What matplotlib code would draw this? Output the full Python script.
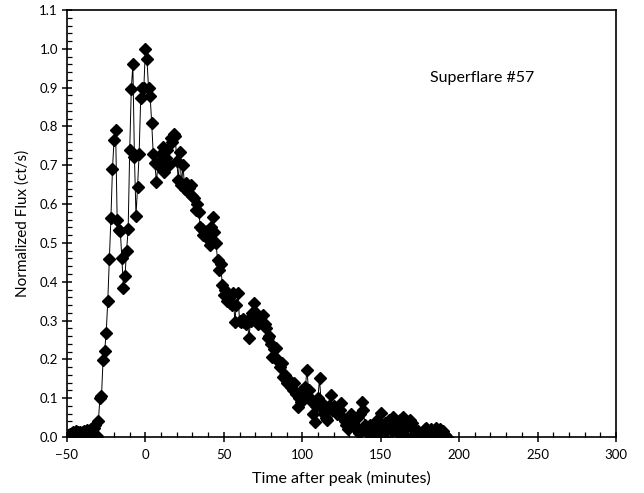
import matplotlib
matplotlib.use("Agg")
import matplotlib.pyplot as plt
import numpy as np
from matplotlib.ticker import MultipleLocator, FormatStrFormatter

plt.rcParams["font.family"] = ["Lato", "DejaVu Sans"]

# time after peak (minutes), one sample per minute
time_min = np.arange(-50, 193)

# normalized flux
flux = [
    0.000, 0.005, 0.008, 0.010, 0.012, 0.010, 0.015, 0.012, 0.014, 0.010,   # -50..-41
    0.013, 0.016, 0.012, 0.018, 0.014, 0.020, 0.016, 0.022, 0.030, 0.003,   # -40..-31
    0.040, 0.100, 0.105, 0.198, 0.222, 0.268, 0.350, 0.458, 0.563, 0.690,   # -30..-21
    0.765, 0.790, 0.559, 0.533, 0.530, 0.460, 0.384, 0.415, 0.480, 0.535,   # -20..-11
    0.740, 0.896, 0.960, 0.722, 0.570, 0.645, 0.730, 0.873, 0.900, 0.900,   # -10..-1
    1.000, 0.973, 0.898, 0.879, 0.810, 0.729, 0.705, 0.658, 0.700, 0.712,   # 0..9
    0.730, 0.748, 0.684, 0.720, 0.740, 0.700, 0.770, 0.760, 0.780, 0.775,   # 10..19
    0.710, 0.662, 0.735, 0.650, 0.700, 0.640, 0.654, 0.630, 0.641, 0.650,   # 20..29
    0.620, 0.615, 0.585, 0.600, 0.580, 0.542, 0.537, 0.520, 0.525, 0.530,   # 30..39
    0.510, 0.495, 0.540, 0.568, 0.529, 0.500, 0.456, 0.430, 0.445, 0.392,   # 40..49
    0.366, 0.380, 0.350, 0.357, 0.345, 0.340, 0.370, 0.297, 0.340, 0.370,   # 50..59
    0.300, 0.295, 0.305, 0.297, 0.290, 0.300, 0.254, 0.300, 0.320, 0.345,   # 60..69
    0.323, 0.300, 0.290, 0.310, 0.300, 0.314, 0.290, 0.280, 0.254, 0.260,   # 70..79
    0.240, 0.207, 0.228, 0.230, 0.200, 0.194, 0.180, 0.190, 0.155, 0.160,   # 80..89
    0.140, 0.150, 0.142, 0.130, 0.120, 0.140, 0.112, 0.078, 0.100, 0.090,   # 90..99
    0.120, 0.110, 0.130, 0.173, 0.120, 0.100, 0.090, 0.060, 0.039, 0.080,   # 100..109
    0.100, 0.151, 0.090, 0.070, 0.060, 0.050, 0.044, 0.080, 0.108, 0.070,   # 110..119
    0.080, 0.075, 0.060, 0.065, 0.070, 0.087, 0.050, 0.040, 0.031, 0.020,   # 120..129
    0.050, 0.060, 0.040, 0.030, 0.020, 0.050, 0.010, 0.060, 0.091, 0.070,   # 130..139
    0.030, 0.020, 0.010, 0.030, 0.020, 0.000, 0.025, 0.040, 0.020, 0.010,   # 140..149
    0.061, 0.030, 0.000, 0.035, 0.020, 0.045, 0.030, 0.015, 0.052, 0.040,   # 150..159
    0.030, 0.010, 0.045, 0.030, 0.052, 0.020, 0.040, 0.000, 0.030, 0.045,   # 160..169
    0.035, 0.020, 0.010, 0.000, 0.015, 0.005, 0.010, 0.000, 0.020, 0.022,   # 170..179
    0.015, 0.010, 0.020, 0.005, 0.015, 0.022, 0.015, 0.005, 0.020, 0.010,   # 180..189
    0.015, 0.005, 0.000,                                                    # 190..192
]

fig = plt.figure(figsize=(6.44, 4.93), dpi=100)
ax = fig.add_axes([0.104, 0.1136, 0.8525, 0.866])

ax.plot(time_min, flux, color="black", linewidth=0.7, marker="D",
        markersize=6, markerfacecolor="black", markeredgecolor="black")

ax.set_xlim(-50, 300)
ax.set_ylim(0, 1.1)
ax.xaxis.set_major_locator(MultipleLocator(50))
ax.xaxis.set_minor_locator(MultipleLocator(10))
ax.yaxis.set_major_locator(MultipleLocator(0.1))
ax.yaxis.set_minor_locator(MultipleLocator(0.02))
ax.yaxis.set_major_formatter(FormatStrFormatter("%.1f"))

ax.tick_params(which="major", direction="inout", length=7, width=1.1,
               labelsize=9.5, pad=3)
ax.tick_params(axis="x", which="major", pad=5)
ax.tick_params(which="minor", direction="in", length=3.5, width=0.9)
for s in ax.spines.values():
    s.set_linewidth(1.2)

ax.set_xlabel("Time after peak (minutes)", fontsize=11.5, labelpad=7)
ax.set_ylabel("Normalized Flux (ct/s)", fontsize=11, labelpad=7)
ax.text(0.662, 0.84, "Superflare #57", transform=ax.transAxes,
        fontsize=11.5, ha="left", va="center")

fig.savefig("out.png", dpi=100)
